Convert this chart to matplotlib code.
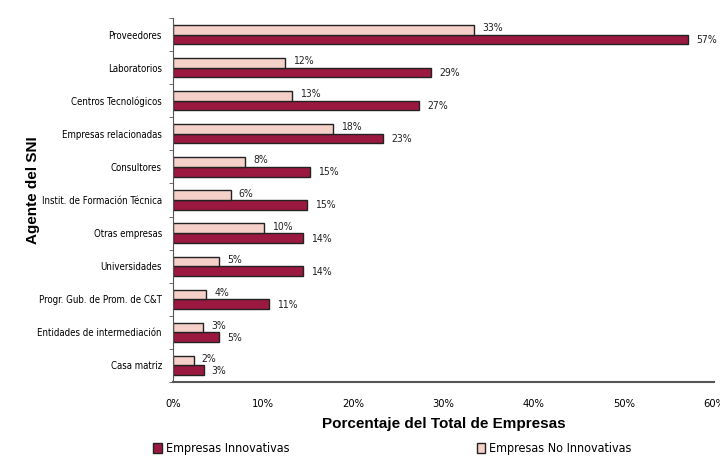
import matplotlib.pyplot as plt
import numpy as np
from matplotlib.ticker import FuncFormatter

plt.rcParams['font.family'] = ['Liberation Sans Narrow', 'DejaVu Sans']
plt.rcParams['font.stretch'] = 'condensed'

agentes = ['Proveedores', 'Laboratorios', 'Centros Tecnológicos', 'Empresas relacionadas',
           'Consultores', 'Instit. de Formación Técnica', 'Otras empresas', 'Universidades',
           'Progr. Gub. de Prom. de C&T', 'Entidades de intermediación', 'Casa matriz']
innovativas = [57.1, 28.6, 27.3, 23.3, 15.2, 14.9, 14.4, 14.4, 10.6, 5.1, 3.4]
no_innovativas = [33.4, 12.4, 13.2, 17.7, 8.0, 6.4, 10.1, 5.1, 3.7, 3.3, 2.3]
etiq_innov = ['57%', '29%', '27%', '23%', '15%', '15%', '14%', '14%', '11%', '5%', '3%']
etiq_no = ['33%', '12%', '13%', '18%', '8%', '6%', '10%', '5%', '4%', '3%', '2%']

c_innov = '#9b1940'
c_no = '#f4d0c9'

fig = plt.figure(figsize=(7.2, 4.57), dpi=100)
ax = fig.add_axes([173 / 720, 1 - 382 / 457, 541 / 720, 364 / 457])

y = np.arange(len(agentes))
h = 0.29
b1 = ax.barh(y + h / 2, innovativas, height=h, color=c_innov, edgecolor='#222222',
             linewidth=1.0, label='Empresas Innovativas')
b2 = ax.barh(y - h / 2, no_innovativas, height=h, color=c_no, edgecolor='#222222',
             linewidth=1.0, label='Empresas No Innovativas')

for yy, v, t in zip(y, innovativas, etiq_innov):
    ax.text(v + 0.9, yy + h / 2 + 0.02, t, va='center', ha='left', fontsize=7.5, color='#222222')
for yy, v, t in zip(y, no_innovativas, etiq_no):
    ax.text(v + 0.9, yy - h / 2 - 0.05, t, va='center', ha='left', fontsize=7.5, color='#222222')

ax.set_xlim(0, 60)
ax.set_ylim(len(agentes) - 0.5, -0.5)
ax.set_xticks(np.arange(0, 61, 10))
ax.xaxis.set_major_formatter(FuncFormatter(lambda v, p: f'{v:.0f}%'))
ax.set_yticks(y)
ax.set_yticklabels(agentes, fontsize=6.9)
ax.set_yticks(np.arange(-0.5, len(agentes), 1), minor=True)
ax.tick_params(axis='y', which='major', length=0, pad=8)
ax.tick_params(axis='y', which='minor', length=3, color='#555555')
ax.tick_params(axis='x', length=0, pad=12, labelsize=8)

for s in ['top', 'right']:
    ax.spines[s].set_visible(False)
ax.spines['left'].set_color('#555555')
ax.spines['bottom'].set_color('#555555')
ax.spines['bottom'].set_linewidth(1.5)

ax.set_xlabel('Porcentaje del Total de Empresas', fontsize=11, fontweight='bold',
              family=['Liberation Sans', 'DejaVu Sans'], fontstretch='normal', labelpad=6)
fig.text(0.046, 0.584, 'Agente del SNI', rotation=90, ha='center', va='center',
         fontsize=11, fontweight='bold', family=['Liberation Sans', 'DejaVu Sans'],
         fontstretch='normal')

fig.legend(handles=[b1, b2], loc='center', bbox_to_anchor=(0.545, 0.018), ncol=2,
           frameon=False, fontsize=9, columnspacing=15, handlelength=0.7,
           handleheight=0.9, handletextpad=0.3)

fig.savefig('out.png', dpi=100, facecolor='white')
